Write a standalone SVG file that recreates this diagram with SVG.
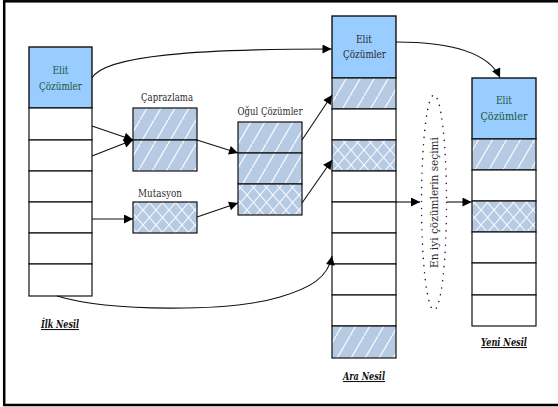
<svg xmlns="http://www.w3.org/2000/svg" width="558" height="407" viewBox="0 0 558 407">
  <style>
    .cell { stroke: #111; stroke-width: 1.2; }
    .white { fill: #ffffff; }
    .elit { fill: #99ccff; stroke: #111; stroke-width: 1.4; }
    .diag { fill: url(#diagHatch); }
    .cross { fill: url(#crossHatch); }
    .elitTxt { fill: #22573a; }
    .elitTxtDark { fill: #2b2b2b; }
    .lbl { fill: #2b2b2b; }
    .gen { font-weight: bold; font-style: italic; fill: #111; text-decoration: underline; }
    .conn { fill: none; stroke: #111; stroke-width: 1.1; marker-end: url(#arrow); }
  </style>
  <defs>
    <pattern id="diagHatch" patternUnits="userSpaceOnUse" width="14" height="24">
      <rect width="14" height="24" fill="#b7cae4"/>
      <line x1="0" y1="24" x2="14" y2="0" stroke="#ffffff" stroke-width="1.2" stroke-opacity="0.9"/>
    </pattern>
    <pattern id="crossHatch" patternUnits="userSpaceOnUse" width="13" height="15">
      <rect width="13" height="15" fill="#b7cae4"/>
      <line x1="0" y1="0" x2="13" y2="15" stroke="#ffffff" stroke-width="1.1" stroke-opacity="0.9"/>
      <line x1="13" y1="0" x2="0" y2="15" stroke="#ffffff" stroke-width="1.1" stroke-opacity="0.9"/>
    </pattern>
    <marker id="arrow" viewBox="0 0 10 10" refX="10" refY="5" markerUnits="userSpaceOnUse" markerWidth="11" markerHeight="9" orient="auto">
      <path d="M0,0 L10,5 L0,10 Z" fill="#000"/>
    </marker>
  </defs>

  <!-- outer frame -->
  <rect x="4.2" y="1.3" width="600" height="403.7" fill="none" stroke="#000" stroke-width="2.5"/>

  <g font-family="DejaVu Serif, Liberation Serif, serif" font-size="10.5" text-anchor="middle">
  <!-- first generation column -->
  <g id="ilk-nesil">
    <rect class="elit" x="29" y="47" width="63" height="61"/>
    <text class="elitTxt" x="60.5" y="74" textLength="16" lengthAdjust="spacingAndGlyphs">Elit</text>
    <text class="elitTxt" x="60.5" y="90" textLength="43" lengthAdjust="spacingAndGlyphs">Çözümler</text>
    <rect class="cell white" x="29" y="108" width="63" height="32"/>
    <rect class="cell white" x="29" y="140" width="63" height="31"/>
    <rect class="cell white" x="29" y="171" width="63" height="31"/>
    <rect class="cell white" x="29" y="202" width="63" height="31"/>
    <rect class="cell white" x="29" y="233" width="63" height="31"/>
    <rect class="cell white" x="29" y="264" width="63" height="32"/>
    <text class="gen" x="60" y="328" textLength="38" lengthAdjust="spacingAndGlyphs">İlk Nesil</text>
  </g>

  <!-- crossover -->
  <g id="caprazlama">
    <text class="lbl" x="167" y="101" textLength="52" lengthAdjust="spacingAndGlyphs">Çaprazlama</text>
    <rect class="cell diag" x="133" y="108" width="64" height="32"/>
    <rect class="cell diag" x="133" y="140" width="64" height="31"/>
  </g>

  <!-- mutation -->
  <g id="mutasyon">
    <text class="lbl" x="160" y="197" textLength="44" lengthAdjust="spacingAndGlyphs">Mutasyon</text>
    <rect class="cell cross" x="133" y="202" width="64" height="31"/>
  </g>

  <!-- offspring -->
  <g id="ogul-cozumler">
    <text class="lbl" x="270" y="115" textLength="65" lengthAdjust="spacingAndGlyphs">Oğul Çözümler</text>
    <rect class="cell diag" x="238" y="122" width="64" height="31"/>
    <rect class="cell diag" x="238" y="153" width="64" height="31"/>
    <rect class="cell cross" x="238" y="184" width="64" height="31"/>
  </g>

  <!-- intermediate generation column -->
  <g id="ara-nesil">
    <rect class="elit" x="332" y="16" width="64" height="62"/>
    <text class="elitTxt elitTxtDark" x="364" y="43" textLength="16" lengthAdjust="spacingAndGlyphs">Elit</text>
    <text class="elitTxt elitTxtDark" x="364.5" y="58" textLength="43" lengthAdjust="spacingAndGlyphs">Çözümler</text>
    <rect class="cell diag" x="332" y="78" width="64" height="31"/>
    <rect class="cell white" x="332" y="109" width="64" height="31"/>
    <rect class="cell cross" x="332" y="140" width="64" height="31"/>
    <rect class="cell white" x="332" y="171" width="64" height="31"/>
    <rect class="cell white" x="332" y="202" width="64" height="31"/>
    <rect class="cell white" x="332" y="233" width="64" height="31"/>
    <rect class="cell white" x="332" y="264" width="64" height="31"/>
    <rect class="cell white" x="332" y="295" width="64" height="31"/>
    <rect class="cell diag" x="332" y="326" width="64" height="32"/>
    <text class="gen" x="364" y="380" textLength="42" lengthAdjust="spacingAndGlyphs">Ara Nesil</text>
  </g>

  <!-- selection -->
  <g id="secim">
    <ellipse cx="434" cy="202.5" rx="12.5" ry="107.5" fill="none" stroke="#222" stroke-width="1.5" stroke-dasharray="0.1 7" stroke-linecap="round"/>
    <text class="lbl" x="438" y="202.5" transform="rotate(-90 438 202.5)" textLength="131" lengthAdjust="spacingAndGlyphs" font-size="11">En iyi çözümlerin seçimi</text>
  </g>

  <!-- new generation column -->
  <g id="yeni-nesil">
    <rect class="elit" x="472" y="78" width="64" height="61"/>
    <text class="elitTxt" x="504" y="104" textLength="16" lengthAdjust="spacingAndGlyphs">Elit</text>
    <text class="elitTxt" x="504" y="120" textLength="47" lengthAdjust="spacingAndGlyphs">Çözümler</text>
    <rect class="cell diag" x="472" y="139" width="64" height="31"/>
    <rect class="cell white" x="472" y="170" width="64" height="31"/>
    <rect class="cell cross" x="472" y="201" width="64" height="31"/>
    <rect class="cell white" x="472" y="232" width="64" height="31"/>
    <rect class="cell white" x="472" y="263" width="64" height="32"/>
    <rect class="cell white" x="472" y="295" width="64" height="31"/>
    <text class="gen" x="504" y="346" textLength="46" lengthAdjust="spacingAndGlyphs">Yeni Nesil</text>
  </g>
  </g>

  <!-- connectors -->
  <g id="connectors">
    <path class="conn" d="M92,78 C105,55 200,49 331.5,49"/>
    <path class="conn" d="M396,42 C450,42 488,52 500,77.5"/>
    <path class="conn" d="M92,126 L133,140"/>
    <path class="conn" d="M92,156 L133,140"/>
    <path class="conn" d="M197,140 L238,153"/>
    <path class="conn" d="M92,219 L133,219"/>
    <path class="conn" d="M197,217 L238,203"/>
    <path class="conn" d="M302,140 L332,95"/>
    <path class="conn" d="M302,203 L332,160"/>
    <path class="conn" d="M396,202 L420,202"/>
    <path class="conn" d="M447,202 L471.5,202"/>
    <path class="conn" d="M57,296 C110,312 230,312 280,297 C310,288 328,278 332,256"/>
  </g>
</svg>
